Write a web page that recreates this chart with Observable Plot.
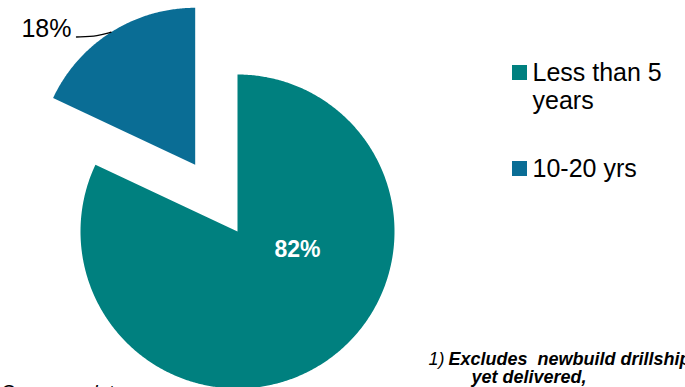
<!DOCTYPE html>
<html><head><meta charset="utf-8">
<script src="https://cdn.jsdelivr.net/npm/d3@7"></script>
<script src="https://cdn.jsdelivr.net/npm/@observablehq/plot@0.6"></script>
<style>
body{margin:0;background:#fff;}
#chart{position:relative;width:685px;height:387px;overflow:hidden;background:#fff;}
#chart svg{overflow:hidden;}
</style>
</head><body><div id="chart"></div>
<script>
// ---- data ----
const categories = ["Less than 5 years", "10-20 yrs"];
const values = [82, 18];
const sliceLabels = ["82%", "18%"];
const legendLines = [["Less than 5", "years"], ["10-20 yrs"]];
const footnoteNumber = "1)";
const footnoteLines = ["Excludes  newbuild drillships not", "yet delivered,"];
const sourceText = "Company data";

// ---- style / layout ----
const colors = ["#00807f", "#0a6d95"];
const W = 685, H = 387;
const cx = 237, cy = 231, R = 157;
const explode = [0, 79];
const font = "Liberation Sans, Arial, sans-serif";

// pie geometry from values
const arcs = d3.pie().sort(null)(values);
const slicePts = [];
const sliceCenters = [];
arcs.forEach((a, i) => {
  const mid = (a.startAngle + a.endAngle) / 2;
  const ox = cx + explode[i] * Math.sin(mid);
  const oy = cy - explode[i] * Math.cos(mid);
  sliceCenters.push({x: ox, y: oy, mid});
  const cat = categories[i];
  slicePts.push({x: ox, y: oy, category: cat});
  const n = Math.max(2, Math.ceil((a.endAngle - a.startAngle) / (Math.PI / 360)));
  for (let k = 0; k <= n; k++) {
    const t = a.startAngle + (a.endAngle - a.startAngle) * k / n;
    slicePts.push({x: ox + R * Math.sin(t), y: oy - R * Math.cos(t), category: cat});
  }
});

// 82% label inside, 18% label outside with leader
const insideLabel = [{x: 297, y: 256, text: sliceLabels[0]}];
const c1 = sliceCenters[1];
const arcPt = {x: c1.x + R * Math.sin(c1.mid), y: c1.y - R * Math.cos(c1.mid)};
const leader = [{x: 76, y: 36.5}, {x: 98, y: 35.5}, arcPt];
const outsideLabel = [{x: 71, y: 36, text: sliceLabels[1]}];

// legend
const legendX = 512, legendSize = 15, legendTextX = 532;
const legendBaselines = [80, 176];
const lineGap = 28.5;
const legendRects = categories.map((c, i) => ({
  category: c, x1: legendX, x2: legendX + legendSize,
  y1: legendBaselines[i] - legendSize, y2: legendBaselines[i]
}));
const legendTexts = [];
legendLines.forEach((lines, i) => lines.forEach((t, j) =>
  legendTexts.push({x: legendTextX, y: legendBaselines[i] + j * lineGap, text: t})));

const plot = Plot.plot({
  width: W, height: H,
  margin: 0,
  x: {domain: [0, W], range: [0, W], axis: null},
  y: {domain: [0, H], range: [0, H], axis: null},
  color: {domain: categories, range: colors},
  style: {background: "white", overflow: "hidden"},
  marks: [
    Plot.line(slicePts, {x: "x", y: "y", z: "category", fill: "category", stroke: "none", curve: "linear-closed"}),
    Plot.text(insideLabel, {x: "x", y: "y", text: "text", fill: "white", fontSize: 23, fontWeight: "bold", fontFamily: font, lineAnchor: "bottom", textAnchor: "middle"}),
    Plot.line(leader, {x: "x", y: "y", stroke: "black", strokeWidth: 1.3, curve: "basis"}),
    Plot.text(outsideLabel, {x: "x", y: "y", text: "text", fill: "black", fontSize: 25, fontFamily: font, lineAnchor: "bottom", textAnchor: "end"}),
    Plot.rect(legendRects, {x1: "x1", x2: "x2", y1: "y1", y2: "y2", fill: "category"}),
    Plot.text(legendTexts, {x: "x", y: "y", text: "text", fill: "black", fontSize: 25, fontFamily: font, lineAnchor: "bottom", textAnchor: "start"}),
    Plot.text([{x: 428, y: 364, text: footnoteNumber}], {x: "x", y: "y", text: "text", fill: "black", fontSize: 18, fontStyle: "italic", fontFamily: font, lineAnchor: "bottom", textAnchor: "start"}),
    Plot.text([{x: 448, y: 364, text: footnoteLines[0]}, {x: 471, y: 382, text: footnoteLines[1]}], {x: "x", y: "y", text: "text", fill: "black", fontSize: 18, fontStyle: "italic", fontWeight: "bold", fontFamily: font, lineAnchor: "bottom", textAnchor: "start"}),
    Plot.text([{x: 0, y: 397, text: sourceText}], {x: "x", y: "y", text: "text", fill: "black", fontSize: 19, fontStyle: "italic", fontFamily: font, lineAnchor: "bottom", textAnchor: "start"})
  ]
});
document.getElementById("chart").append(plot);
</script>
</body></html>
